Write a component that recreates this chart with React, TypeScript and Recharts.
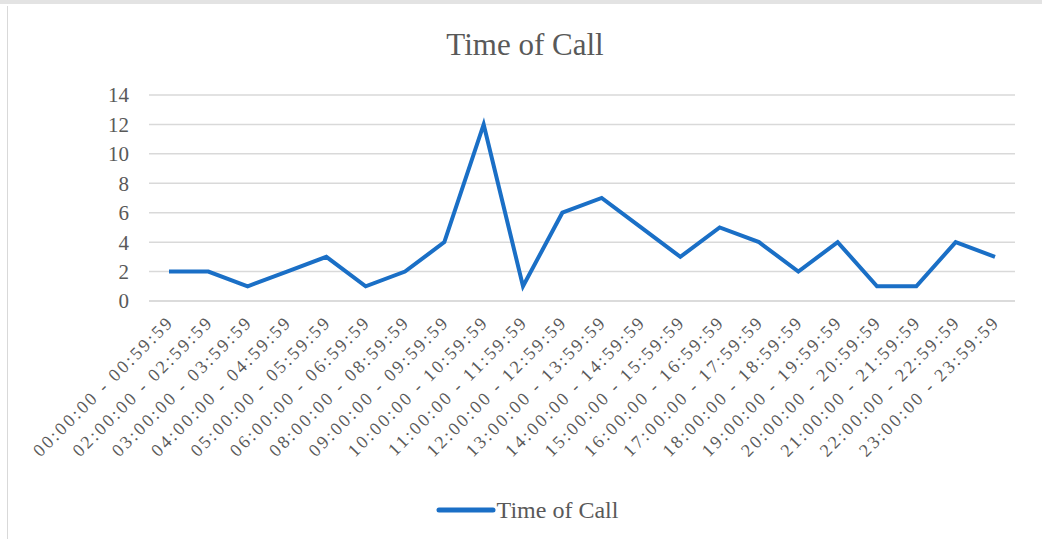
import { LineChart, Line, XAxis, YAxis, CartesianGrid, Legend } from "recharts"

const SERIES_NAME = "Time of Call"

const categories = [
  "00:00:00 - 00:59:59",
  "02:00:00 - 02:59:59",
  "03:00:00 - 03:59:59",
  "04:00:00 - 04:59:59",
  "05:00:00 - 05:59:59",
  "06:00:00 - 06:59:59",
  "08:00:00 - 08:59:59",
  "09:00:00 - 09:59:59",
  "10:00:00 - 10:59:59",
  "11:00:00 - 11:59:59",
  "12:00:00 - 12:59:59",
  "13:00:00 - 13:59:59",
  "14:00:00 - 14:59:59",
  "15:00:00 - 15:59:59",
  "16:00:00 - 16:59:59",
  "17:00:00 - 17:59:59",
  "18:00:00 - 18:59:59",
  "19:00:00 - 19:59:59",
  "20:00:00 - 20:59:59",
  "21:00:00 - 21:59:59",
  "22:00:00 - 22:59:59",
  "23:00:00 - 23:59:59",
]

const calls = [2, 2, 1, 2, 3, 1, 2, 4, 12, 1, 6, 7, 5, 3, 5, 4, 2, 4, 1, 1, 4, 3]

const yTicks = [0, 2, 4, 6, 8, 10, 12, 14]

const FONT = "Liberation Serif, serif"
const TEXT = "#595959"
const BLUE = "#1a6fc6"

const data = categories.map((name, i) => ({ name, value: calls[i] }))

function SlantTick(props: any) {
  const { x, y, payload } = props
  const tx = x + 6
  const ty = y + 14
  return (
    <text
      x={tx}
      y={ty}
      transform={`rotate(-45, ${tx}, ${ty})`}
      textAnchor="end"
      fill={TEXT}
      style={{ fontFamily: FONT, fontSize: 18, letterSpacing: 2.5 }}
    >
      {payload.value}
    </text>
  )
}

function LegendLine() {
  return (
    <div style={{ display: "flex", justifyContent: "center", alignItems: "center", fontFamily: FONT, fontSize: 24, color: TEXT, lineHeight: "28px" }}>
      <svg width={60} height={10} style={{ marginRight: 1 }}>
        <line x1={3} y1={5} x2={57} y2={5} stroke={BLUE} strokeWidth={5} strokeLinecap="round" />
      </svg>
      <span>{SERIES_NAME}</span>
    </div>
  )
}

export default function App() {
  return (
    <div style={{ position: "absolute", left: 0, top: 0, width: 1042, height: 539, background: "#fff", overflow: "hidden", fontFamily: FONT }}>
      <div style={{ position: "absolute", left: 0, top: 0, width: 1042, height: 4, background: "#e3e3e3" }} />
      <div style={{ position: "absolute", left: 7, top: 6, width: 1, height: 533, background: "#d9d9d9" }} />
      <div style={{ position: "absolute", left: 0, top: 0 }}>
        <LineChart width={1042} height={539} data={data} margin={{ top: 95, right: 27, bottom: 10, left: 89 }}>
          <text x={525} y={55} textAnchor="middle" fill={TEXT} style={{ fontFamily: FONT, fontSize: 31 }}>
            {SERIES_NAME}
          </text>
          <CartesianGrid vertical={false} stroke="#d9d9d9" strokeWidth={1.5} />
          <XAxis
            dataKey="name"
            interval={0}
            tickLine={false}
            padding={{ left: 20, right: 20 }}
            axisLine={{ stroke: "#d9d9d9", strokeWidth: 1.5 }}
            height={195}
            tick={<SlantTick />}
          />
          <YAxis
            domain={[0, 14]}
            ticks={yTicks}
            interval={0}
            width={60}
            axisLine={false}
            tickLine={false}
            tickMargin={14}
            tick={{ fill: TEXT, fontFamily: FONT, fontSize: 21 }}
          />
          <Legend
            verticalAlign="bottom"
            height={33}
            wrapperStyle={{ left: 6, width: 1042 }}
            content={<LegendLine />}
          />
          <Line
            type="linear"
            dataKey="value"
            name={SERIES_NAME}
            stroke={BLUE}
            strokeWidth={4}
            dot={false}
            isAnimationActive={false}
          />
        </LineChart>
      </div>
    </div>
  )
}
